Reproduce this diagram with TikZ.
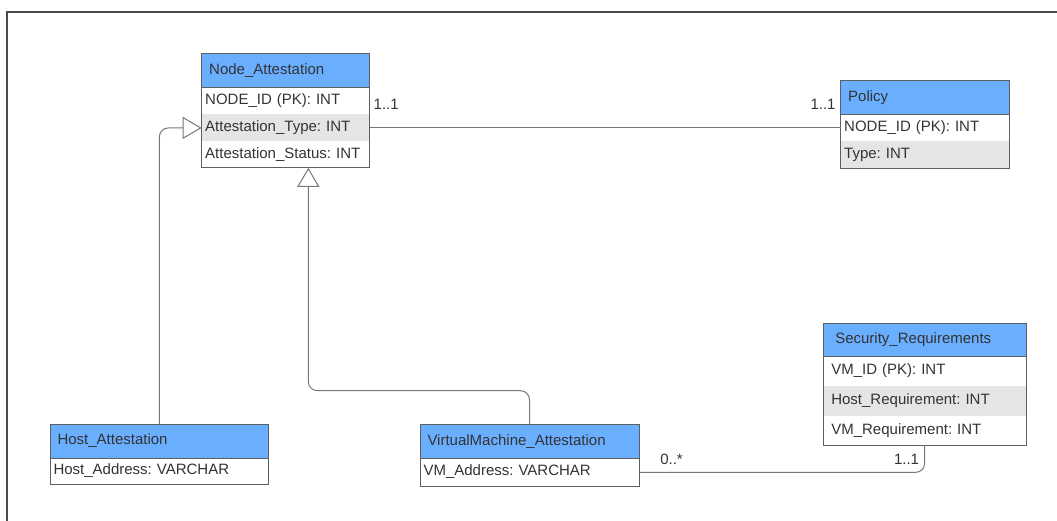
\documentclass[tikz,border=0pt]{standalone}
\usepackage{fontspec}
\setmainfont{Liberation Sans}
\usetikzlibrary{arrows.meta,calc}
\frenchspacing

\definecolor{hdrblue}{HTML}{6AAFFF}
\definecolor{rowgray}{HTML}{E5E5E5}
\definecolor{boxline}{HTML}{5F5F5F}
\definecolor{linkline}{HTML}{777777}
\definecolor{txt}{HTML}{333333}
\definecolor{framecol}{HTML}{4A4A4A}

\tikzset{
  base/.style={anchor=north west, inner ysep=0pt, outer sep=0pt, align=left,
    text height=11pt, text depth=4pt, font=\fontsize{15}{18}\selectfont, text=txt},
  hdr/.style={base, draw=boxline, line width=1pt, fill=hdrblue, inner xsep=7.5pt},
  fld/.style={base, inner xsep=3.5pt},
  fldgray/.style={fld, fill=rowgray},
  outline/.style={draw=boxline, line width=1pt},
  link/.style={draw=linkline, line width=1pt},
  gen/.style={link, rounded corners=9pt,
    -{Triangle[open, length=19pt, width=22pt, line width=1pt]}},
  mult/.style={inner sep=0pt, font=\fontsize{15}{18}\selectfont, text=txt}
}

\begin{document}
\begin{tikzpicture}[x=1pt, y=-1pt]
  \useasboundingbox (0,0) rectangle (1057,521);
  % outer frame (open to the right and bottom)
  \draw[framecol, line width=1.5pt] (7,521) -- (7,12) -- (1057,12);

  % Node_Attestation
  \node[hdr, text width=153pt, minimum height=33.7pt] (na) at (201.7,54) {Node\_Attestation};
  \node[fld, text width=161pt, minimum height=26.8pt] (na1) at (na.south west) {NODE\_ID (PK): INT};
  \node[fldgray, text width=161pt, minimum height=26.8pt] (na2) at (na1.south west) {Attestation\_Type: INT};
  \node[fld, text width=161pt, minimum height=26.5pt] (na3) at (na2.south west) {Attestation\_Status: INT};
  \draw[outline] (na1.north west) rectangle (na3.south east);

  % Policy
  \node[hdr, text width=153.3pt, minimum height=33.3pt] (pol) at (840.7,81) {Policy};
  \node[fld, text width=161.3pt, minimum height=26.8pt] (pol1) at (pol.south west) {NODE\_ID (PK): INT};
  \node[fldgray, text width=161.3pt, minimum height=27.2pt] (pol2) at (pol1.south west) {Type: INT};
  \draw[outline] (pol1.north west) rectangle (pol2.south east);

  % Security_Requirements
  \node[hdr, inner xsep=12pt, text width=178.7pt, minimum height=33.4pt] (sr) at (823.3,323.3) {Security\_Requirements};
  \node[fld, inner xsep=8pt, text width=186.7pt, minimum height=29.3pt] (sr1) at (sr.south west) {VM\_ID (PK): INT};
  \node[fldgray, inner xsep=8pt, text width=186.7pt, minimum height=30pt] (sr2) at (sr1.south west) {Host\_Requirement: INT};
  \node[fld, inner xsep=8pt, text width=186.7pt, minimum height=29.3pt] (sr3) at (sr2.south west) {VM\_Requirement: INT};
  \draw[outline] (sr1.north west) rectangle (sr3.south east);

  % Host_Attestation
  \node[hdr, text width=203.7pt, minimum height=34pt] (ha) at (50,424) {Host\_Attestation};
  \node[fld, text width=211.7pt, minimum height=26.7pt] (ha1) at (ha.south west) {Host\_Address: VARCHAR};
  \draw[outline] (ha1.north west) rectangle (ha1.south east);

  % VirtualMachine_Attestation
  \node[hdr, text width=204pt, minimum height=34.4pt] (vm) at (420,424.3) {VirtualMachine\_Attestation};
  \node[fld, text width=212pt, minimum height=27.3pt] (vm1) at (vm.south west) {VM\_Address: VARCHAR};
  \draw[outline] (vm1.north west) rectangle (vm1.south east);

  % generalisations
  \coordinate (naB) at ([xshift=106.6pt]na3.south west);
  \coordinate (vmup) at ([yshift=33.6pt]vm.north);
  \draw[gen] (ha.north) |- (na2.west);
  \draw[gen] (vm.north) -- (vmup) -| (naB);

  % associations
  \draw[link] (na2.east) -- (na2.east -| pol1.west);
  \draw[link, rounded corners=9pt] (vm1.east) -| (sr3.south);

  % multiplicities
  \node[mult] (m1) at (386.2,104.7) {1..1};
  \node[mult] (m2) at (823,104.7) {1..1};
  \node[mult] (m3) at (671.5,459) {0..*};
  \node[mult] (m4) at (906.5,459) {1..1};
\end{tikzpicture}
\end{document}
